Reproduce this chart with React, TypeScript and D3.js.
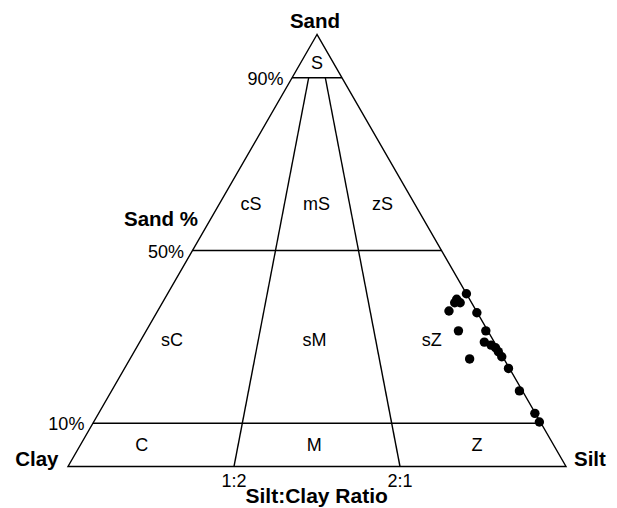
import React from "react";
import * as d3 from "d3";

// Sample compositions (percent of sand and silt; clay is the remainder)
const sampleSand = [40, 38.7, 37.9, 37.9, 36, 35.6, 31.4, 31.4, 28.8, 28.1, 27.5, 26.6, 25.4, 24.9, 22.7, 17.5, 12.3, 10.3];
const sampleSilt = [60, 58.7, 59.8, 58.7, 58.5, 64.3, 62.7, 68.2, 69.2, 70.9, 72.1, 73.1, 74.4, 68.2, 77.1, 81.9, 87.6, 89.5];

// Class boundaries
const sandBreaks = [10, 50, 90];
const sandTickLabels = ["10%", "50%", "90%"];
const ratioBreaks = [1 / 3, 2 / 3]; // silt fraction of the mud
const ratioTickLabels = ["1:2", "2:1"];

// Class names: [label, sand %, silt share of mud]
const classLabels: [string, number, number][] = [
  ["S", 93.6, 0.5],
  ["cS", 60.8, 0.162],
  ["mS", 60.8, 0.498],
  ["zS", 60.8, 0.835],
  ["sC", 29.3, 0.088],
  ["sM", 29.3, 0.493],
  ["sZ", 29.3, 0.826],
  ["C", 5.2, 0.129],
  ["M", 5.2, 0.494],
  ["Z", 5.2, 0.839],
];

const W = 617;
const H = 508;
const xLeft = 68;
const xRight = 566;
const yBase = 466.5;
const yTop = 34.5;

const xScale = d3.scaleLinear().domain([0, 100]).range([xLeft, xRight]);
const yScale = d3.scaleLinear().domain([0, 100]).range([yBase, yTop]);

// Ternary projection: sand at apex, clay bottom-left, silt bottom-right
const project = (sand: number, silt: number): [number, number] => [
  xScale(silt + sand / 2),
  yScale(sand),
];
// Point from sand % and the silt share of the remaining mud
const projectRatio = (sand: number, f: number): [number, number] =>
  project(sand, (100 - sand) * f);

export default function App() {
  const line = d3.line();
  const outline = line([project(100, 0), project(0, 0), project(0, 100), project(100, 0)]) + "Z";
  const font = "'Liberation Sans', Arial, sans-serif";
  const stroke = "#000";
  const sw = 1.4;

  return (
    <svg width={W} height={H} style={{ position: "absolute", left: 0, top: 0, background: "#fff" }} fontFamily={font}>
      {/* sand-class boundaries */}
      {sandBreaks.map((s) => (
        <path key={"s" + s} d={line([project(s, 0), project(s, 100 - s)])!} stroke={stroke} strokeWidth={sw} fill="none" />
      ))}
      {/* silt:clay ratio boundaries */}
      {ratioBreaks.map((f) => (
        <path key={"r" + f} d={line([projectRatio(0, f), projectRatio(90, f)])!} stroke={stroke} strokeWidth={sw} fill="none" />
      ))}
      <path d={outline} stroke={stroke} strokeWidth={sw} fill="none" strokeLinejoin="miter" />

      {/* class names */}
      {classLabels.map(([t, s, f]) => {
        const [x, y] = projectRatio(s, f);
        return (
          <text key={t} x={x} y={y + 6.5} textAnchor="middle" fontSize={18}>
            {t}
          </text>
        );
      })}

      {/* sand % ticks */}
      {sandBreaks.map((s, i) => {
        const [x, y] = project(s, 0);
        return (
          <text key={"st" + s} x={x - 8.5} y={y + 7} textAnchor="end" fontSize={18}>
            {sandTickLabels[i]}
          </text>
        );
      })}
      {/* ratio ticks */}
      {ratioBreaks.map((f, i) => {
        const [x, y] = projectRatio(0, f);
        return (
          <text key={"rt" + f} x={x} y={y + 20} textAnchor="middle" fontSize={18}>
            {ratioTickLabels[i]}
          </text>
        );
      })}

      {/* samples */}
      {sampleSand.map((s, i) => {
        const [x, y] = project(s, sampleSilt[i]);
        return <circle key={"p" + i} cx={x} cy={y} r={4.7} fill="#000" />;
      })}

      {/* axis titles */}
      <text x={project(100, 0)[0] - 2} y={27.5} textAnchor="middle" fontSize={20.5} fontWeight="bold">
        Sand
      </text>
      <text x={198} y={225.5} textAnchor="end" fontSize={20.5} fontWeight="bold">
        Sand %
      </text>
      <text x={58.5} y={466} textAnchor="end" fontSize={20.5} fontWeight="bold">
        Clay
      </text>
      <text x={574} y={466} textAnchor="start" fontSize={20.5} fontWeight="bold">
        Silt
      </text>
      <text x={316.7} y={503} textAnchor="middle" fontSize={21} fontWeight="bold">
        Silt:Clay Ratio
      </text>
    </svg>
  );
}
